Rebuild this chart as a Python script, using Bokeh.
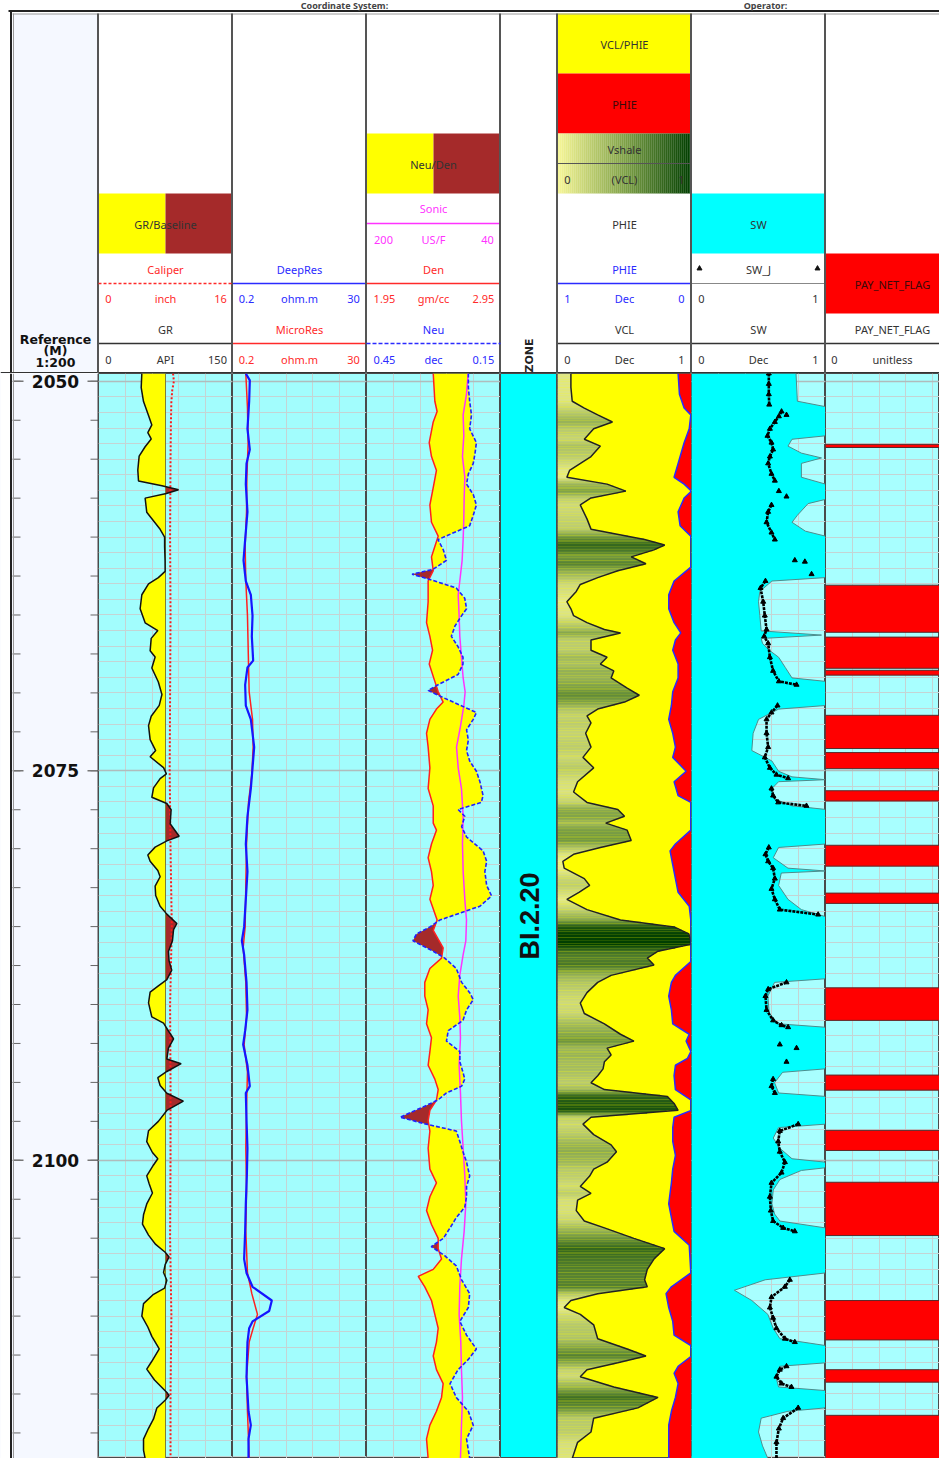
import numpy as np
from bokeh.plotting import figure
from bokeh.layouts import row, column
from bokeh.models import Range1d, FixedTicker, SingleIntervalTicker, Grid, ColumnDataSource
from bokeh.transform import linear_cmap
from bokeh.core.properties import value
from bokeh.embed import file_html
from bokeh.resources import INLINE

N = float("nan")

# ---------------- data ----------------
gr_depth = [2049.5, 2050.4, 2051.3, 2052.2, 2052.8, 2053.3, 2053.7, 2054.2, 2054.8, 2055.7,
            2056.4, 2056.7, 2056.96, 2057.2, 2057.5, 2058.4, 2059.5, 2060.0, 2060.6, 2061.5,
            2062.2, 2062.6, 2063.0, 2063.7, 2064.6, 2065.5, 2066.0, 2066.5, 2067.3, 2067.7,
            2068.4, 2069.3, 2070.1, 2070.8, 2071.5, 2072.1, 2073.0, 2073.7, 2074.1, 2074.8,
            2075.2, 2075.5, 2076.1, 2076.7, 2077.1, 2077.5, 2078.4, 2079.2, 2079.5, 2079.9,
            2080.4, 2080.8, 2081.4, 2081.8, 2082.4, 2083.0, 2083.7, 2084.2, 2084.8, 2085.2,
            2085.9, 2086.6, 2087.2, 2087.8, 2088.4, 2088.8, 2089.2, 2089.9, 2090.8, 2091.2,
            2091.7, 2092.2, 2092.8, 2093.5, 2093.8, 2094.3, 2094.7, 2095.2, 2095.7, 2096.2,
            2096.8, 2097.5, 2098.1, 2098.8, 2099.5, 2099.9, 2100.3, 2101.0, 2101.5, 2102.1,
            2102.8, 2103.5, 2104.1, 2104.8, 2105.4, 2105.9, 2106.2, 2106.7, 2107.2, 2107.7,
            2108.2, 2108.6, 2109.2, 2110.0, 2110.7, 2111.3, 2112.1, 2112.9, 2113.4, 2114.1,
            2114.9, 2115.1, 2115.4, 2115.9, 2116.6, 2117.2, 2117.9, 2118.6, 2119.14]
gr_api = [48.5, 47.8, 50.4, 56.0, 59.7, 55.2, 59.0, 52.2, 45.5, 44.0,
          44.8, 71.0, 89.6, 76.0, 52.2, 54.0, 69.0, 74.0, 74.0, 74.5,
          74.6, 67.0, 56.0, 48.5, 46.6, 52.2, 66.4, 59.0, 57.8, 63.4,
          59.7, 67.0, 71.0, 68.0, 59.0, 56.0, 57.8, 64.0, 57.8, 72.8,
          76.0, 69.0, 61.6, 59.7, 76.5, 81.3, 80.2, 90.3, 76.5, 63.4,
          55.2, 57.8, 66.4, 69.0, 63.4, 64.0, 69.0, 76.5, 87.7, 84.0,
          82.8, 78.3, 79.0, 82.0, 76.5, 67.0, 57.8, 56.0, 59.7, 72.8,
          78.3, 84.0, 78.3, 76.5, 92.5, 76.5, 66.4, 69.0, 76.5, 95.0,
          76.5, 67.0, 56.0, 54.0, 60.4, 66.4, 61.6, 54.0, 56.7, 60.4,
          54.0, 50.4, 49.2, 56.0, 64.0, 74.6, 79.0, 74.6, 72.8, 76.5,
          74.0, 61.6, 50.4, 48.5, 55.2, 59.7, 68.0, 59.7, 54.0, 62.7,
          76.5, 79.0, 74.6, 65.3, 61.6, 56.0, 50.4, 50.4, 52.2]
gr_baseline = 75.0

cali_depth = [2049.5, 2050.0, 2050.6, 2051.3, 2052.5, 2055.0, 2060.0, 2065.0, 2070.0, 2075.0,
              2080.0, 2085.0, 2090.0, 2095.0, 2100.0, 2105.0, 2110.0, 2115.0, 2119.14]
cali_in = [8.9, 9.0, 8.8, 8.7, 8.65, 8.6, 8.55, 8.6, 8.55, 8.5,
           8.6, 8.75, 8.55, 8.6, 8.6, 8.55, 8.7, 8.6, 8.6]

deep_depth = [2049.5, 2049.94, 2051.28, 2053.05, 2054.38, 2055.27, 2056.6, 2058.38, 2060.16, 2061.49,
              2062.82, 2063.71, 2065.04, 2066.37, 2067.93, 2068.37, 2069.48, 2070.81, 2071.7, 2073.48,
              2074.81, 2076.14, 2077.92, 2079.7, 2081.47, 2083.25, 2085.02, 2085.91, 2086.8, 2088.58,
              2090.35, 2091.68, 2092.57, 2093.9, 2095.24, 2095.68, 2097.46, 2099.23, 2101.01, 2102.79,
              2104.56, 2106.34, 2107.23, 2108.12, 2109.0, 2109.67, 2110.34, 2110.78, 2111.67, 2113.89,
              2116.11, 2117.0, 2117.88, 2119.14]
deep_res = [0.329, 0.382, 0.373, 0.350, 0.382, 0.338, 0.329, 0.350, 0.321, 0.302,
            0.329, 0.397, 0.423, 0.412, 0.433, 0.350, 0.321, 0.329, 0.397, 0.450,
            0.423, 0.397, 0.350, 0.329, 0.350, 0.329, 0.309, 0.284, 0.309, 0.338,
            0.350, 0.321, 0.298, 0.350, 0.382, 0.329, 0.338, 0.350, 0.342, 0.329,
            0.321, 0.309, 0.338, 0.423, 0.870, 0.788, 0.423, 0.373, 0.350, 0.338,
            0.364, 0.397, 0.364, 0.364]

micro_depth = [2049.5, 2051.72, 2053.94, 2056.16, 2058.38, 2060.6, 2062.82, 2065.04, 2068.15, 2069.93,
               2071.7, 2073.48, 2075.25, 2077.03, 2079.7, 2082.36, 2085.02, 2086.36, 2088.58, 2090.8,
               2092.57, 2094.35, 2096.57, 2099.23, 2101.9, 2104.56, 2107.23, 2108.56, 2109.89, 2110.78,
               2111.67, 2113.89, 2116.11, 2117.88, 2119.14]
micro_res = [0.329, 0.350, 0.359, 0.342, 0.338, 0.321, 0.329, 0.350, 0.364, 0.373,
             0.423, 0.433, 0.412, 0.364, 0.338, 0.329, 0.321, 0.298, 0.329, 0.338,
             0.309, 0.350, 0.338, 0.329, 0.338, 0.329, 0.350, 0.412, 0.509, 0.433,
             0.373, 0.338, 0.350, 0.364, 0.373]

den_depth = [2049.5, 2051.28, 2051.94, 2052.61, 2053.94, 2054.83, 2055.72, 2056.83, 2057.94, 2059.05,
             2059.94, 2060.6, 2061.27, 2062.16, 2062.82, 2064.15, 2065.49, 2066.37, 2067.26, 2068.15,
             2069.26, 2069.93, 2070.59, 2071.04, 2071.7, 2072.59, 2073.48, 2074.81, 2076.14, 2077.25,
             2078.36, 2078.81, 2079.7, 2080.58, 2081.47, 2082.36, 2083.25, 2084.58, 2085.25, 2086.36,
             2087.02, 2087.69, 2088.58, 2089.46, 2090.35, 2091.24, 2092.13, 2093.02, 2093.9, 2094.79,
             2095.46, 2096.13, 2096.79, 2097.46, 2098.12, 2099.23, 2100.57, 2101.45, 2102.34, 2103.23,
             2104.12, 2105.01, 2105.67, 2106.34, 2107.0, 2107.45, 2108.12, 2109.0, 2109.89, 2110.78,
             2111.67, 2112.56, 2113.44, 2114.33, 2115.22, 2116.11, 2117.0, 2117.88, 2119.14]
den_gcc = [2.448, 2.460, 2.477, 2.448, 2.418, 2.435, 2.472, 2.448, 2.423, 2.435,
           2.485, 2.460, 2.435, 2.448, 2.410, 2.410, 2.398, 2.423, 2.443, 2.418,
           2.460, 2.485, 2.522, 2.472, 2.423, 2.398, 2.410, 2.423, 2.410, 2.448,
           2.448, 2.472, 2.435, 2.410, 2.435, 2.448, 2.423, 2.477, 2.448, 2.522,
           2.510, 2.423, 2.385, 2.385, 2.410, 2.398, 2.435, 2.423, 2.410, 2.460,
           2.485, 2.472, 2.423, 2.410, 2.423, 2.410, 2.423, 2.472, 2.423, 2.398,
           2.435, 2.485, 2.485, 2.510, 2.448, 2.336, 2.385, 2.435, 2.460, 2.485,
           2.472, 2.448, 2.472, 2.522, 2.510, 2.472, 2.423, 2.398, 2.410]

neu_depth = [2049.5, 2050.39, 2051.28, 2052.16, 2053.05, 2053.94, 2054.61, 2055.27, 2055.94, 2056.6,
             2057.27, 2057.94, 2058.6, 2059.27, 2060.16, 2060.82, 2061.49, 2062.07, 2062.38, 2062.82,
             2063.27, 2063.93, 2064.6, 2065.04, 2065.71, 2066.37, 2067.04, 2067.71, 2068.15, 2068.82,
             2069.48, 2069.84, 2070.15, 2070.59, 2071.26, 2071.7, 2072.37, 2073.03, 2073.7, 2074.37,
             2075.03, 2075.7, 2076.59, 2077.03, 2077.48, 2077.92, 2078.59, 2079.25, 2080.14, 2080.81,
             2081.47, 2082.36, 2083.03, 2083.69, 2084.58, 2085.02, 2085.47, 2085.91, 2086.58, 2087.02,
             2087.69, 2088.58, 2089.24, 2089.69, 2090.35, 2091.02, 2091.68, 2092.35, 2093.02, 2093.68,
             2094.35, 2094.79, 2095.24, 2095.68, 2096.13, 2096.57, 2097.24, 2097.68, 2098.12, 2098.79,
             2099.45, 2100.12, 2101.01, 2101.68, 2102.34, 2103.01, 2103.68, 2104.34, 2105.01, 2105.54,
             2106.12, 2106.78, 2107.67, 2108.56, 2109.45, 2110.34, 2111.22, 2112.11, 2112.78, 2113.44,
             2114.33, 2115.22, 2116.11, 2117.0, 2117.88, 2119.14]
neu_vv = [0.222, 0.222, 0.219, 0.215, 0.219, 0.204, 0.207, 0.211, 0.222, 0.226,
          0.211, 0.204, 0.211, 0.219, 0.290, 0.278, 0.271, 0.301, 0.348, 0.297,
          0.249, 0.230, 0.226, 0.237, 0.252, 0.260, 0.245, 0.234, 0.234, 0.245,
          0.290, 0.312, 0.290, 0.256, 0.204, 0.211, 0.226, 0.222, 0.226, 0.219,
          0.204, 0.196, 0.189, 0.193, 0.245, 0.230, 0.237, 0.226, 0.189, 0.181,
          0.185, 0.181, 0.170, 0.196, 0.286, 0.308, 0.338, 0.346, 0.301, 0.275,
          0.249, 0.237, 0.219, 0.211, 0.226, 0.234, 0.267, 0.271, 0.241, 0.241,
          0.234, 0.230, 0.237, 0.271, 0.290, 0.323, 0.375, 0.316, 0.249, 0.241,
          0.234, 0.226, 0.219, 0.226, 0.226, 0.230, 0.249, 0.263, 0.278, 0.305,
          0.275, 0.249, 0.237, 0.219, 0.222, 0.241, 0.226, 0.204, 0.222, 0.245,
          0.263, 0.249, 0.222, 0.211, 0.226, 0.219]

dt_depth = [2049.5, 2050.83, 2052.16, 2053.5, 2054.83, 2056.16, 2057.49, 2058.83, 2060.16, 2061.49,
            2062.82, 2063.71, 2065.04, 2066.37, 2067.71, 2069.04, 2069.93, 2070.81, 2072.15, 2073.48,
            2074.81, 2076.14, 2077.92, 2079.7, 2081.47, 2083.25, 2084.58, 2085.91, 2086.8, 2088.13,
            2089.46, 2090.8, 2092.13, 2093.9, 2095.68, 2097.46, 2099.23, 2101.01, 2102.79, 2104.56,
            2106.34, 2108.12, 2109.89, 2111.67, 2113.44, 2115.22, 2117.0, 2119.14]
dt_usft = [78.6, 80.6, 84.6, 83.8, 85.4, 82.6, 83.4, 83.8, 84.6, 85.8,
           88.6, 90.5, 89.4, 88.6, 86.6, 84.6, 82.2, 83.8, 87.8, 92.5,
           90.5, 86.6, 84.6, 85.4, 84.6, 82.6, 80.6, 81.4, 84.6, 88.6,
           90.5, 88.6, 87.8, 89.4, 87.8, 86.6, 84.6, 82.6, 81.4, 83.4,
           86.6, 88.6, 89.4, 87.4, 86.6, 85.4, 86.6, 87.8]

vcl_depth = [2049.5, 2050.39, 2051.28, 2051.72, 2052.16, 2052.61, 2053.05, 2053.72, 2054.16, 2054.83,
             2055.72, 2056.16, 2056.6, 2057.05, 2057.49, 2057.94, 2058.83, 2059.49, 2060.16, 2060.51,
             2060.82, 2061.27, 2061.71, 2062.16, 2062.6, 2063.04, 2063.49, 2064.15, 2064.6, 2065.04,
             2065.49, 2065.93, 2066.15, 2066.6, 2067.26, 2067.71, 2068.15, 2068.59, 2069.04, 2069.7,
             2070.15, 2070.59, 2071.04, 2071.48, 2071.92, 2072.59, 2073.48, 2074.14, 2074.81, 2075.7,
             2076.36, 2077.03, 2077.48, 2077.92, 2078.36, 2078.81, 2079.47, 2079.92, 2080.36, 2080.81,
             2081.25, 2081.92, 2082.36, 2082.8, 2083.25, 2083.91, 2084.58, 2085.02, 2085.47, 2086.13,
             2086.58, 2087.02, 2087.47, 2088.13, 2088.58, 2089.24, 2089.91, 2090.58, 2091.24, 2091.91,
             2092.35, 2092.8, 2093.24, 2093.68, 2094.13, 2094.57, 2095.02, 2095.46, 2095.9, 2096.35,
             2096.79, 2097.24, 2097.68, 2098.35, 2099.01, 2099.45, 2100.12, 2100.57, 2101.01, 2101.68,
             2102.12, 2102.56, 2103.23, 2103.9, 2104.34, 2105.01, 2105.67, 2106.34, 2107.0, 2107.67,
             2108.12, 2108.56, 2109.0, 2109.45, 2109.89, 2110.56, 2111.45, 2112.11, 2112.56, 2113.0,
             2113.44, 2113.89, 2114.55, 2115.22, 2115.89, 2116.55, 2117.44, 2118.1, 2119.14]
vcl_v = [0.10, 0.10, 0.11, 0.20, 0.30, 0.41, 0.27, 0.20, 0.32, 0.25,
         0.09, 0.07, 0.37, 0.51, 0.25, 0.17, 0.22, 0.25, 0.65, 0.80,
         0.72, 0.55, 0.66, 0.45, 0.30, 0.17, 0.14, 0.07, 0.10, 0.12,
         0.22, 0.35, 0.47, 0.25, 0.25, 0.37, 0.32, 0.42, 0.40, 0.52,
         0.61, 0.50, 0.30, 0.22, 0.25, 0.21, 0.25, 0.19, 0.27, 0.15,
         0.12, 0.22, 0.45, 0.50, 0.36, 0.52, 0.55, 0.32, 0.12, 0.04,
         0.05, 0.20, 0.24, 0.16, 0.07, 0.22, 0.47, 0.87, 0.98, 1.00,
         0.75, 0.67, 0.72, 0.40, 0.30, 0.22, 0.17, 0.20, 0.35, 0.47,
         0.57, 0.37, 0.40, 0.35, 0.34, 0.30, 0.25, 0.35, 0.82, 0.87,
         0.90, 0.25, 0.19, 0.27, 0.40, 0.44, 0.37, 0.27, 0.24, 0.17,
         0.25, 0.15, 0.14, 0.20, 0.35, 0.57, 0.80, 0.72, 0.67, 0.65,
         0.67, 0.30, 0.10, 0.05, 0.17, 0.27, 0.30, 0.52, 0.66, 0.45,
         0.22, 0.17, 0.42, 0.75, 0.60, 0.27, 0.25, 0.15, 0.11]

phie_depth = [2049.5, 2050.83, 2051.72, 2052.16, 2053.05, 2053.94, 2055.27, 2056.16, 2056.6, 2057.05,
              2057.49, 2058.38, 2059.27, 2059.94, 2060.6, 2061.93, 2062.82, 2063.71, 2064.6, 2065.49,
              2066.15, 2066.6, 2067.26, 2068.15, 2069.04, 2069.93, 2070.81, 2071.7, 2072.59, 2073.48,
              2074.14, 2075.03, 2075.7, 2076.59, 2077.03, 2078.81, 2079.7, 2080.14, 2081.03, 2081.92,
              2082.8, 2083.69, 2084.58, 2085.47, 2087.24, 2088.13, 2088.58, 2089.46, 2090.35, 2091.24,
              2091.91, 2092.35, 2093.02, 2093.46, 2093.9, 2094.57, 2095.46, 2096.13, 2096.79, 2097.24,
              2097.9, 2098.79, 2099.68, 2100.57, 2101.45, 2102.79, 2103.68, 2104.56, 2105.45, 2107.23,
              2108.12, 2108.56, 2109.45, 2110.34, 2111.22, 2111.89, 2112.56, 2113.22, 2113.67, 2114.33,
              2115.22, 2116.11, 2117.0, 2119.14]
phie_v = [0.10, 0.09, 0.055, 0.005, 0.017, 0.055, 0.10, 0.13, 0.055, 0.0,
          0.055, 0.10, 0.085, 0.005, 0.0, 0.005, 0.13, 0.17, 0.17, 0.13,
          0.08, 0.12, 0.14, 0.10, 0.10, 0.14, 0.15, 0.17, 0.14, 0.12,
          0.14, 0.04, 0.13, 0.10, 0.005, 0.005, 0.12, 0.16, 0.14, 0.12,
          0.10, 0.017, 0.005, 0.0, 0.005, 0.12, 0.15, 0.17, 0.15, 0.14,
          0.017, 0.04, 0.005, 0.03, 0.12, 0.13, 0.12, 0.005, 0.0, 0.13,
          0.14, 0.14, 0.12, 0.14, 0.15, 0.17, 0.15, 0.13, 0.017, 0.005,
          0.15, 0.19, 0.17, 0.14, 0.13, 0.005, 0.0, 0.10, 0.13, 0.10,
          0.12, 0.15, 0.17, 0.17]

sw_depth = [2049.5, 2051.28, 2051.63, 2053.5, 2053.72, 2054.16, 2054.61, 2054.92, 2055.27, 2056.16,
            2056.6, 2057.58, 2057.85, 2058.6, 2059.05, 2059.62, 2059.94, 2062.6, 2062.82, 2063.49,
            2064.15, 2065.04, 2066.02, 2066.29, 2066.51, 2066.82, 2067.26, 2067.71, 2068.37, 2069.04,
            2069.26, 2070.81, 2071.04, 2071.7, 2072.59, 2073.7, 2074.37, 2075.03, 2075.39, 2075.57,
            2075.7, 2076.14, 2076.81, 2077.25, 2077.48, 2079.7, 2079.92, 2080.58, 2081.25, 2081.43,
            2081.56, 2082.36, 2083.25, 2083.91, 2084.36, 2088.35, 2088.58, 2089.46, 2090.58, 2091.24,
            2091.46, 2094.13, 2094.35, 2095.02, 2095.68, 2095.9, 2097.68, 2097.9, 2098.57, 2099.23,
            2099.9, 2100.12, 2100.48, 2100.65, 2101.23, 2101.9, 2102.79, 2103.45, 2103.9, 2104.34,
            2107.23, 2107.67, 2108.34, 2109.0, 2109.89, 2110.78, 2111.45, 2111.89, 2113.0, 2113.22,
            2113.89, 2114.55, 2114.78, 2115.89, 2116.11, 2116.55, 2117.44, 2118.33, 2119.14]
sw_v = [0.78, 0.79, 1.0, 1.0, 0.75, 0.72, 0.82, 0.97, 0.82, 0.82,
        1.0, 1.0, 0.87, 0.79, 0.75, 0.85, 1.0, 1.0, 0.60, 0.51,
        0.50, 0.51, 0.52, 0.97, 0.52, 0.53, 0.58, 0.65, 0.70, 0.75,
        1.0, 1.0, 0.65, 0.50, 0.46, 0.45, 0.60, 0.65, 0.75, 1.0,
        0.65, 0.60, 0.62, 0.75, 1.0, 1.0, 0.65, 0.61, 0.72, 1.0,
        0.67, 0.65, 0.72, 0.82, 1.0, 1.0, 0.62, 0.57, 0.58, 0.65,
        1.0, 1.0, 0.68, 0.62, 0.65, 1.0, 1.0, 0.65, 0.61, 0.66,
        0.75, 1.0, 1.0, 0.82, 0.66, 0.61, 0.60, 0.62, 0.66, 1.0,
        1.0, 0.55, 0.32, 0.45, 0.57, 0.61, 0.66, 1.0, 1.0, 0.66,
        0.63, 0.65, 1.0, 1.0, 0.72, 0.52, 0.50, 0.53, 0.57]

swj_depth = [2049.5, 2050.17, 2050.83, 2051.5, N,
             2051.94, 2052.25, 2052.61, 2053.05, 2053.5, 2053.94, 2054.38, 2054.83, 2055.27, 2055.94, 2056.38, N,
             2052.16, N, 2057.05, N, 2057.4, N,
             2057.94, 2058.38, 2059.05, 2059.71, 2060.16, N,
             2061.49, N, 2061.58, N, 2062.38, N,
             2062.82, 2063.27, 2064.15, 2065.04, 2065.93, 2066.37, 2066.82, 2067.71, 2068.59, 2069.26, 2069.48, N,
             2070.81, 2071.26, 2071.7, 2072.59, 2073.48, 2074.14, 2074.81, 2075.25, 2075.48, N,
             2076.14, 2076.59, 2077.03, 2077.25, N,
             2079.92, 2080.36, 2080.81, 2081.25, 2081.92, 2082.58, 2083.25, 2083.91, 2084.23, N,
             2088.58, 2089.02, 2089.46, 2090.35, 2091.02, 2091.33, 2091.46, N,
             2092.57, N, 2092.8, N, 2093.68, N,
             2094.79, 2095.24, 2095.68, N,
             2097.68, 2098.12, 2098.79, 2099.45, 2100.12, 2100.79, 2101.45, 2102.34, 2103.23, 2103.9, 2104.34, 2104.56, N,
             2107.67, 2108.12, 2108.78, 2109.45, 2110.11, 2110.78, 2111.45, 2111.67, N,
             2113.22, 2113.44, 2113.89, 2114.33, 2114.55, N,
             2115.89, 2116.55, 2117.22, 2118.1, 2119.14]
swj_v = [0.577, 0.577, 0.577, 0.58, N,
         0.672, 0.652, 0.622, 0.585, 0.567, 0.597, 0.609, 0.585, 0.572, 0.597, 0.622, N,
         0.709, N, 0.652, N, 0.709, N,
         0.597, 0.572, 0.56, 0.597, 0.622, N,
         0.771, N, 0.846, N, 0.896, N,
         0.552, 0.515, 0.535, 0.547, 0.56, 0.542, 0.572, 0.585, 0.609, 0.652, 0.784, N,
         0.642, 0.597, 0.56, 0.56, 0.572, 0.547, 0.585, 0.634, 0.721, N,
         0.597, 0.609, 0.647, 0.858, N,
         0.577, 0.552, 0.572, 0.609, 0.622, 0.597, 0.622, 0.659, 0.945, N,
         0.709, 0.572, 0.552, 0.56, 0.609, 0.672, 0.721, N,
         0.659, N, 0.784, N, 0.709, N,
         0.609, 0.597, 0.622, N,
         0.796, 0.659, 0.647, 0.659, 0.697, 0.672, 0.597, 0.585, 0.592, 0.609, 0.684, 0.771, N,
         0.734, 0.697, 0.597, 0.585, 0.609, 0.634, 0.697, 0.771, N,
         0.709, 0.659, 0.634, 0.672, 0.746, N,
         0.796, 0.684, 0.652, 0.634, 0.634]

pay_top = [2054.05, 2063.09, 2066.42, 2068.55, 2071.44, 2073.83, 2076.28, 2079.78, 2082.85, 2088.93,
           2094.53, 2098.08, 2101.41, 2109.0, 2113.44, 2116.37]
pay_base = [2054.25, 2066.11, 2068.42, 2068.86, 2073.57, 2074.86, 2076.94, 2081.12, 2083.51, 2091.02,
            2095.5, 2099.37, 2104.83, 2111.53, 2114.24, 2119.14]

zone_name = "BI.2.20"
zone_top, zone_base = 2049.5, 2119.14
depth_labels = [2050, 2075, 2100]
tick_depths = [2050 + 2.5 * i for i in range(28)]

# ---------------- style ----------------
TOP, BOT = 2049.5, 2119.14
FONT = "Noto Sans"
BOLD = "DejaVu Sans"
C_TXT = "#333333"
C_RED = "#ff2a2a"
C_BLUE = "#2b2bff"
C_MAG = "#ff33ff"
BG = "#a2fdfd"
LCYAN = "#a8ffff"
CYAN = "#00ffff"
GRIDC = "#c4d4d4"
GRID_MAJ = "#b0bcbc"
YELLOW = "#ffff00"
BROWN = "#a52a2a"
RED = "#ff0000"
REFBG = "#f5f8ff"


def ramp(stops, n=256):
    out = []
    for i in range(n):
        t = i / (n - 1)
        for (t0, c0), (t1, c1) in zip(stops[:-1], stops[1:]):
            if t0 <= t <= t1:
                f = (t - t0) / (t1 - t0)
                c = [int(round(a + (b - a) * f)) for a, b in zip(c0, c1)]
                break
        out.append("#%02x%02x%02x" % tuple(c))
    return out


VSH_PAL = ramp([(0.0, (246, 246, 150)), (0.5, (128, 162, 72)), (1.0, (0, 62, 0))])

yr = Range1d(BOT, TOP)


def track(width, xr, bg, xticks=None, xtype="linear"):
    p = figure(width=width, height=1085, x_range=xr, y_range=yr, x_axis_type=xtype,
               output_backend="svg", toolbar_location=None, min_border=0,
               x_axis_location=None, y_axis_location=None,
               background_fill_color=bg, border_fill_color=bg,
               outline_line_color="#4a4a4a", outline_line_width=1)
    if xticks is None:
        p.grid.visible = False
    else:
        p.xgrid.ticker = FixedTicker(ticks=xticks)
        p.ygrid.ticker = SingleIntervalTicker(interval=1)
        p.grid.grid_line_color = GRIDC
        p.grid.grid_line_width = 1
        p.add_layout(Grid(dimension=1, ticker=FixedTicker(ticks=depth_labels),
                          grid_line_color=GRID_MAJ, grid_line_width=1.5))
    return p


z = np.arange(TOP, BOT + 0.02, 0.04)

# ---------------- reference column ----------------
rf = figure(width=98, height=1085, x_range=Range1d(0, 98), y_range=yr,
            output_backend="svg", toolbar_location=None, min_border=0,
            x_axis_location=None, y_axis_location=None,
            background_fill_color=REFBG, border_fill_color="white", outline_line_color=None)
rf.grid.visible = False
rf.quad(left=[0], right=[10], top=[TOP], bottom=[BOT], fill_color="white", line_color=None)
rf.segment(x0=12, x1=20, y0=tick_depths, y1=tick_depths, line_color="#666666", line_width=1)
rf.segment(x0=90, x1=98, y0=tick_depths, y1=tick_depths, line_color="#666666", line_width=1)
rf.segment(x0=13, x1=23, y0=depth_labels, y1=depth_labels, line_color="#777777", line_width=1.5)
rf.segment(x0=87, x1=98, y0=depth_labels, y1=depth_labels, line_color="#777777", line_width=1.5)
rf.text(x=[55] * len(depth_labels), y=depth_labels, text=[str(d) for d in depth_labels],
        text_align="center", text_baseline="middle", text_font=value(BOLD),
        text_font_style="bold", text_font_size="17px", text_color="#111111")
rf.segment(x0=[10.5, 13, 97.5], x1=[10.5, 13, 97.5], y0=TOP, y1=BOT,
           line_color=["#222222", "#9a9a9a", "#4a4a4a"], line_width=[2, 1, 1])

# ---------------- GR track ----------------
gr = track(134, Range1d(0, 150), BG, [30, 60, 90, 120])
gr.extra_x_ranges = {"cali": Range1d(0, 16)}
g = np.interp(z, gr_depth, gr_api)
base = np.full_like(z, gr_baseline)
gr.harea(x1=np.minimum(g, base), x2=base, y=z, fill_color=YELLOW)
gr.harea(x1=base, x2=np.maximum(g, base), y=z, fill_color=BROWN)
gr.line([gr_baseline, gr_baseline], [TOP, BOT], line_color="#7d7d3a", line_width=1)
gr.line(cali_in, cali_depth, x_range_name="cali", line_color="#ff1a1a", line_width=2, line_dash="2 2")
gr.line(gr_api, gr_depth, line_color="#111111", line_width=1.5)

# ---------------- resistivity track ----------------
res = track(134, Range1d(0.2, 30), BG, [0.2 * 150 ** f for f in (0.2, 0.4, 0.6, 0.8)], "log")
res.line(micro_res, micro_depth, line_color="#ff2020", line_width=1.5)
res.line(deep_res, deep_depth, line_color="#1515ff", line_width=2.2)

# ---------------- neutron / density track ----------------
nd = track(134, Range1d(1.95, 2.95), BG, [2.15, 2.35, 2.55, 2.75])
nd.extra_x_ranges = {"neu": Range1d(0.45, 0.15), "dt": Range1d(200, 40)}
d = np.interp(z, den_depth, den_gcc)
n = 1.95 + (0.45 - np.interp(z, neu_depth, neu_vv)) / 0.30
nd.harea(x1=d, x2=np.maximum(n, d), y=z, fill_color=YELLOW)
nd.harea(x1=np.minimum(n, d), x2=d, y=z, fill_color=BROWN)
nd.line(dt_usft, dt_depth, x_range_name="dt", line_color="#ff33ff", line_width=1.5)
nd.line(den_gcc, den_depth, line_color="#ff2020", line_width=1.5)
nd.line(neu_vv, neu_depth, x_range_name="neu", line_color="#2020ff", line_width=1.6, line_dash="4 2")

# ---------------- zone track ----------------
zn = track(57, Range1d(0, 1), CYAN, None)
zn.text(x=[0.52], y=[(zone_top + zone_base) / 2], text=[zone_name], angle=np.pi / 2,
        text_align="center", text_baseline="middle", text_font=value("Liberation Sans"),
        text_font_style="bold", text_font_size="27px", text_color="#111111")

# ---------------- VCL / PHIE track ----------------
vc = track(134, Range1d(0, 1), YELLOW, None)
vc.extra_x_ranges = {"phie": Range1d(1, 0)}
zb = np.arange(TOP, BOT, 0.1) + 0.05
vb = np.interp(zb, vcl_depth, vcl_v)
vsrc = ColumnDataSource(dict(y=zb, right=vb, v=vb))
vc.hbar(y="y", height=0.11, left=0, right="right", source=vsrc,
        fill_color=linear_cmap("v", VSH_PAL, 0, 1), line_color=None)
vc.line(vcl_v, vcl_depth, line_color="#222222", line_width=1.5)
ph = np.interp(z, phie_depth, phie_v)
vc.harea(x1=ph, x2=np.zeros_like(z), y=z, x_range_name="phie", fill_color=RED)
vc.line(phie_v, phie_depth, x_range_name="phie", line_color="#2a2aff", line_width=1.5)

# ---------------- SW track ----------------
sw = track(134, Range1d(0, 1), LCYAN, [0.2, 0.4, 0.6, 0.8])
s = np.interp(z, sw_depth, sw_v)
sw.harea(x1=np.zeros_like(z), x2=s, y=z, fill_color=CYAN)
sw.line(sw_v, sw_depth, line_color="#4f8c8c", line_width=1)
sw.line(swj_v, swj_depth, line_color="#000000", line_width=2.6, line_dash="3 1")
sw.scatter(swj_v, swj_depth, marker="triangle", size=5, color="#000000")

# ---------------- pay flag track ----------------
pay = track(114, Range1d(0, 114 / 134), LCYAN, [0.2, 0.4, 0.6, 0.8])
pay.quad(left=0, right=1, top=pay_top, bottom=pay_base, fill_color=RED,
         line_color="#5a2a2a", line_width=1)

# ---------------- header ----------------
hd = figure(width=939, height=373, x_range=Range1d(0, 939), y_range=Range1d(373, 0),
            output_backend="svg", toolbar_location=None, min_border=0,
            x_axis_location=None, y_axis_location=None,
            background_fill_color="white", border_fill_color="white", outline_line_color=None)
hd.grid.visible = False

boxes = [(12, 98, 13, 373, REFBG),
         (98, 165, 193, 253, YELLOW), (165, 232, 193, 253, BROWN),
         (366, 433, 133, 193, YELLOW), (433, 500, 133, 193, BROWN),
         (557, 691, 13, 73, YELLOW), (557, 691, 73, 133, RED),
         (691, 825, 193, 253, CYAN), (825, 939, 253, 313, RED)]
hd.quad(left=[b[0] for b in boxes], right=[b[1] for b in boxes], top=[b[2] for b in boxes],
        bottom=[b[3] for b in boxes], fill_color=[b[4] for b in boxes], line_color=None)
ng = 67
gx = [557 + 2 * i for i in range(ng)]
hd.quad(left=gx, right=[x + 2.2 for x in gx], top=133, bottom=193,
        fill_color=[VSH_PAL[int(round(i / (ng - 1) * 255))] for i in range(ng)], line_color=None)

segs = [(8, 10.5, 939, 10.5, "#222222", 2), (12, 13.5, 939, 13.5, "#9a9a9a", 1),
        (10.5, 10, 10.5, 373, "#222222", 2), (13, 13, 13, 373, "#9a9a9a", 1),
        (0, 372.5, 939, 372.5, "#333333", 2),
        (232, 283, 366, 283, C_BLUE, 1.5), (232, 343, 366, 343, C_RED, 1.5),
        (98, 343, 232, 343, C_TXT, 1.5),
        (366, 223, 500, 223, C_MAG, 1.5), (366, 283, 500, 283, C_RED, 1.5),
        (557, 163, 691, 163, "#555555", 1), (557, 283, 691, 283, C_BLUE, 1.5),
        (557, 343, 691, 343, C_TXT, 1.5),
        (691, 283, 825, 283, "#888888", 1.2), (691, 343, 825, 343, C_TXT, 1.5),
        (825, 343, 939, 343, C_TXT, 1.5)]
segs += [(x, 13, x, 373, "#555555", 2) for x in (97.5, 231.5, 365.5, 499.5, 556.5, 690.5, 824.5)]
hd.segment(x0=[s_[0] for s_ in segs], y0=[s_[1] for s_ in segs], x1=[s_[2] for s_ in segs],
           y1=[s_[3] for s_ in segs], line_color=[s_[4] for s_ in segs], line_width=[s_[5] for s_ in segs])
hd.segment(x0=[98], y0=[283], x1=[232], y1=[283], line_color=C_RED, line_width=1.6, line_dash="3 2")
hd.segment(x0=[366], y0=[343], x1=[500], y1=[343], line_color=C_BLUE, line_width=1.6, line_dash="4 2")

texts = [
    ("GR/Baseline", 165, 224, C_TXT), ("Caliper", 165, 269, C_RED),
    ("0", 108, 298, C_RED), ("inch", 165, 298, C_RED), ("16", 220, 298, C_RED),
    ("GR", 165, 329, C_TXT), ("0", 108, 359, C_TXT), ("API", 165, 359, C_TXT), ("150", 217, 359, C_TXT),
    ("DeepRes", 299, 269, C_BLUE), ("0.2", 246, 298, C_BLUE), ("ohm.m", 299, 298, C_BLUE), ("30", 353, 298, C_BLUE),
    ("MicroRes", 299, 329, C_RED), ("0.2", 246, 359, C_RED), ("ohm.m", 299, 359, C_RED), ("30", 353, 359, C_RED),
    ("Neu/Den", 433, 164, C_TXT), ("Sonic", 433, 208, C_MAG),
    ("200", 383, 239, C_MAG), ("US/F", 433, 239, C_MAG), ("40", 487, 239, C_MAG),
    ("Den", 433, 269, C_RED), ("1.95", 384, 298, C_RED), ("gm/cc", 433, 298, C_RED), ("2.95", 483, 298, C_RED),
    ("Neu", 433, 329, C_BLUE), ("0.45", 384, 359, C_BLUE), ("dec", 433, 359, C_BLUE), ("0.15", 483, 359, C_BLUE),
    ("VCL/PHIE", 624, 44, C_TXT), ("PHIE", 624, 104, "#3a0a0a"), ("Vshale", 624, 149, C_TXT),
    ("0", 567, 179, C_TXT), ("(VCL)", 624, 179, C_TXT), ("1", 681, 179, C_TXT),
    ("PHIE", 624, 224, C_TXT), ("PHIE", 624, 269, C_BLUE),
    ("1", 567, 298, C_BLUE), ("Dec", 624, 298, C_BLUE), ("0", 681, 298, C_BLUE),
    ("VCL", 624, 329, C_TXT), ("0", 567, 359, C_TXT), ("Dec", 624, 359, C_TXT), ("1", 681, 359, C_TXT),
    ("SW", 758, 224, C_TXT), ("SW_J", 758, 269, C_TXT), ("0", 701, 298, C_TXT), ("1", 815, 298, C_TXT),
    ("SW", 758, 329, C_TXT), ("0", 701, 359, C_TXT), ("Dec", 758, 359, C_TXT), ("1", 815, 359, C_TXT),
    ("PAY_NET_FLAG", 892, 284, "#3a0a0a"), ("PAY_NET_FLAG", 892, 329, C_TXT),
    ("0", 834, 359, C_TXT), ("unitless", 892, 359, C_TXT),
]
tsrc = ColumnDataSource(dict(x=[t[1] for t in texts], y=[t[2] for t in texts],
                             t=[t[0] for t in texts], c=[t[3] for t in texts]))
hd.text(x="x", y="y", text="t", text_color="c", source=tsrc, text_align="center",
        text_baseline="middle", text_font=value(FONT), text_font_size="11px")
hd.scatter(x=[699, 817], y=[268, 268], marker="triangle", size=5, color="#111111")
hd.text(x=[55, 55, 55], y=[339, 350, 362], text=["Reference", "(M)", "1:200"],
        text_align="center", text_baseline="middle", text_font=value(BOLD),
        text_font_style="bold", text_font_size="12.5px", text_color="#111111")
hd.text(x=[529], y=[355], text=["ZONE"], angle=np.pi / 2, text_align="center",
        text_baseline="middle", text_font=value(BOLD), text_font_style="bold",
        text_font_size="11px", text_color="#222222")
hd.text(x=[344, 765], y=[5, 5], text=["Coordinate System:", "Operator:"],
        text_align="center", text_baseline="middle", text_font=value(FONT),
        text_font_style="bold", text_font_size="9px", text_color="#444444")

layout = column(hd, row(rf, gr, res, nd, zn, vc, sw, pay))
open("out.html", "w").write(file_html(layout, INLINE, title="Well log"))
